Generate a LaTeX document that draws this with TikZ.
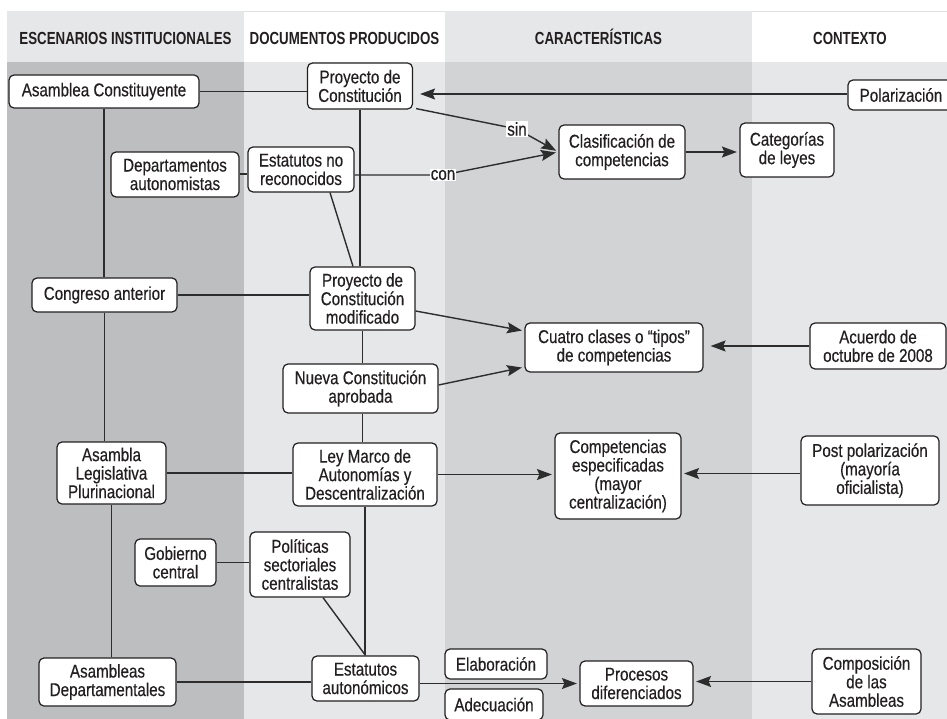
\documentclass[tikz,border=0pt]{standalone}
\usepackage{fontspec}
\setmainfont{Liberation Sans}[FakeStretch=0.82, FakeBold=0.4]
\newfontfamily\hdr{Liberation Sans}[FakeStretch=0.76]
\usetikzlibrary{arrows.meta,calc}
\definecolor{cA}{RGB}{188,190,192}
\definecolor{cB}{RGB}{230,231,232}
\definecolor{cC}{RGB}{209,211,212}
\definecolor{ink}{RGB}{35,31,32}
\definecolor{ln}{RGB}{45,45,45}
\begin{document}
\begin{tikzpicture}[x=1pt,y=-1pt,
 box/.style={draw=ink, line width=1.2pt, rounded corners=5pt, fill=white, align=center, inner sep=0pt, text=ink, font=\fontsize{18.5}{18.5}\selectfont},
 sz/.style 2 args={minimum width=#1pt, minimum height=#2pt},
 conn/.style={draw=ln, line width=1.4pt},
 arr/.style={conn, -{Stealth[length=15pt,width=11pt,inset=2.5pt]}, shorten >=2.5pt},
 lbl/.style={fill=white, inner sep=1pt, text=ink, font=\fontsize{18.5}{18.5}\selectfont},
 hd/.style={font=\hdr\bfseries\fontsize{17.5}{20}\selectfont, text=ink, anchor=base}
]
\useasboundingbox (0,0) rectangle (947,719);
\clip (0,0) rectangle (947,719);
% backgrounds
\fill[cB] (7,11) rectangle (244,62);
\fill[cB] (445,11) rectangle (752,62);
\draw[black!12, line width=0.6pt] (244,11.3) -- (445,11.3) (752,11.3) -- (947,11.3);
\fill[cA] (7,62) rectangle (244,719);
\fill[cB] (244,62) rectangle (445,719);
\fill[cC] (445,62) rectangle (752,719);
\fill[cB] (752,62) rectangle (947,719);
% headers
\node[hd] (h1) at (125.5,44.3) {ESCENARIOS INSTITUCIONALES};
\node[hd] (h2) at (344.5,44.3) {DOCUMENTOS PRODUCIDOS};
\node[hd] (h3) at (598.5,44.3) {CARACTERÍSTICAS};
\node[hd] (h4) at (850,44.3) {CONTEXTO};
% nodes
\node[box, sz={190}{33}] (AC) at (104,91.5) {Asamblea Constituyente};
\node[box, sz={105}{46}] (PC) at (360,86) {Proyecto de\\Constitución};
\node[box, sz={106}{30}] (POL) at (901,95) {Polarización};
\node[box, sz={128}{45}] (DA) at (175,174.5) {Departamentos\\autonomistas};
\node[box, sz={106}{45}] (ENR) at (301,169.5) {Estatutos no\\reconocidos};
\node[box, sz={126}{54}] (CL) at (622,152) {Clasificación de\\competencias};
\node[box, sz={94}{54}] (CAT) at (787,150) {Categorías\\de leyes};
\node[box, sz={145}{34}] (CA) at (104.5,295) {Congreso anterior};
\node[box, sz={105}{63}] (PM) at (362.5,298.5) {Proyecto de\\Constitución\\modificado};
\node[box, sz={178}{49}] (CU) at (614,347.5) {Cuatro clases o “tipos”\\de competencias};
\node[box, sz={136}{46}] (AO) at (878,346) {Acuerdo de\\octubre de 2008};
\node[box, sz={155}{49}] (NC) at (360.5,388.5) {Nueva Constitución\\aprobada};
\node[box, sz={109}{62}] (AL) at (111.5,473) {Asambla\\Legislativa\\Plurinacional};
\node[box, sz={144}{63}] (LM) at (365,474.5) {Ley Marco de\\Autonomías y\\Descentralización};
\node[box, sz={126}{86}] (CE) at (618,476) {Competencias\\especificadas\\(mayor\\centralización)};
\node[box, sz={138}{69}] (PP) at (870,470.5) {Post polarización\\(mayoría\\oficialista)};
\node[box, sz={81}{47}] (GC) at (175.5,562.5) {Gobierno\\central};
\node[box, sz={100}{65}] (PS) at (300,564.5) {Políticas\\sectoriales\\centralistas};
\node[box, sz={137}{48}] (AD) at (107.5,682) {Asambleas\\Departamentales};
\node[box, sz={107}{45}] (EA) at (365.5,678.5) {Estatutos\\autonómicos};
\node[box, sz={102}{30}] (EL) at (496,664) {Elaboración};
\node[box, sz={98}{31}] (AE) at (494,704.5) {Adecuación};
\node[box, sz={113}{45}] (PD) at (636.5,683.5) {Procesos\\diferenciados};
\node[box, sz={109}{65}] (CO) at (866.5,681.5) {Composición\\de las\\Asambleas};
% coordinates for labelled bends
\coordinate (cbend) at (443,175);
\coordinate (sbend) at (517,129);
% connectors
\draw[conn] (AC.east) -- (AC.east -| PC.west);
\draw[conn] (AC.south) -- (AC.south |- CA.north);
\draw[conn] (CA.south) -- (CA.south |- AL.north);
\draw[conn] (AL.south) -- (AL.south |- AD.north);
\draw[conn] (DA.east |- 0,174) -- (ENR.west |- 0,174);
\draw[arr] (ENR.east |- cbend) -- (cbend) -- (CL.west);
\draw[arr] ($(PC.south east)+(3,-1)$) -- (sbend) -- (CL.west);
\node[lbl] (con) at (cbend) {con};
\node[lbl] (sin) at (sbend) {sin};
\draw[arr] (CL.east) -- (CL.east -| CAT.west);
\draw[arr, shorten >=7pt] ([yshift=1pt]POL.west) -- ([yshift=1pt]POL.west -| PC.east);
\draw[conn] (PC.south) -- (PC.south |- PM.north);
\draw[conn] ([xshift=29pt]ENR.south) -- ([xshift=-9.5pt]PM.north);
\draw[conn] (CA.east) -- (CA.east -| PM.west);
\draw[arr] ([yshift=-12.5pt]PM.east) -- ([yshift=16.5pt]CU.west);
\draw[arr] ([yshift=3.5pt]NC.east) -- ([yshift=-19.5pt]CU.west);
\draw[conn] (PM.south) -- (PM.south |- NC.north);
\draw[conn] (PM.south |- NC.south) -- (PM.south |- LM.north);
\draw[arr, shorten >=7pt] (AO.west) -- (AO.west -| CU.east);
\draw[conn] (AL.east) -- (AL.east -| LM.west);
\draw[arr] (LM.east) -- (LM.east -| CE.west);
\draw[arr] ([yshift=-3pt]PP.west) -- ([yshift=-3pt]PP.west -| CE.east);
\draw[conn] (LM.south) -- (LM.south |- EA.north);
\draw[conn] (GC.east) -- (GC.east -| PS.west);
\draw[conn] ([xshift=23pt]PS.south) -- (EA.north);
\draw[conn] (AD.east) -- (AD.east -| EA.west);
\draw[arr] (EA.east |- PD.west) -- (PD.west);
\draw[arr] (CO.west) -- (CO.west -| PD.east);
\end{tikzpicture}
\end{document}
